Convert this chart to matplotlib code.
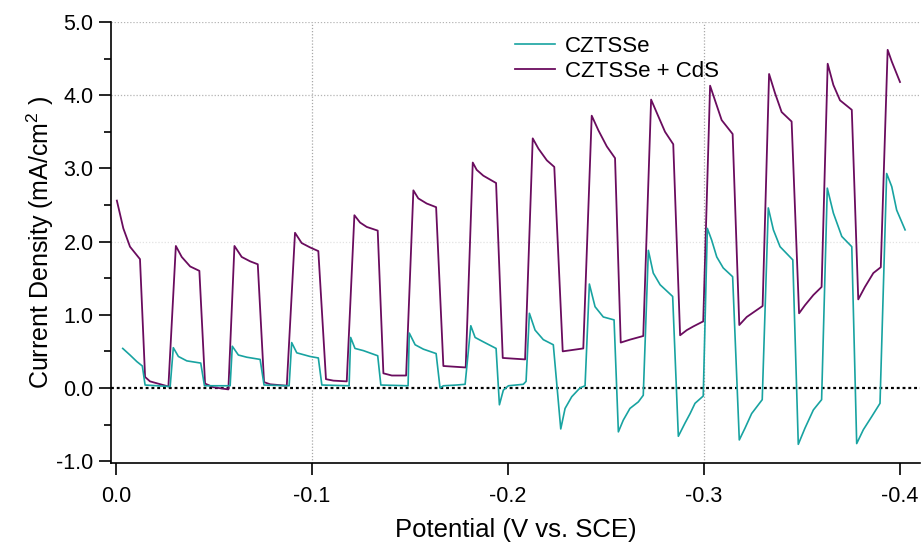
import numpy as np
import matplotlib.pyplot as plt
from matplotlib.ticker import MultipleLocator, FormatStrFormatter

plt.rcParams['font.family'] = ['Liberation Sans', 'DejaVu Sans']
plt.rcParams['mathtext.fontset'] = 'custom'
plt.rcParams['mathtext.rm'] = 'Liberation Sans'
plt.rcParams['axes.unicode_minus'] = False

# chopped-light scans, potential in mV (cathodic) and current density in mA/cm2
cztsse_mv = [3.4, 7.1, 10.6, 13.4, 14.8, 27.6,
             29.2, 31.8, 36.1, 43.2, 45.1, 58.2,
             59.3, 62.4, 66.7, 73.5, 75.5, 88.3,
             89.6, 92.2, 99.0, 103.2, 105.0, 118.9,
             119.7, 121.9, 126.2, 133.5, 135.1, 149.0,
             149.6, 152.6, 156.8, 163.3, 165.3, 167.0, 173.8, 178.1,
             181.0, 183.2, 187.4, 193.9, 195.6, 197.6, 200.2, 207.8, 209.2,
             210.9, 213.8, 218.0, 223.1, 226.9, 229.1, 232.5, 236.7, 239.3,
             241.5, 244.4, 248.6, 254.1, 256.3, 258.8, 262.2, 266.5, 269.0,
             271.6, 274.1, 277.6, 284.0, 286.9, 290.3, 292.9, 295.4, 299.6,
             301.7, 303.9, 306.5, 309.8, 314.6, 318.0, 320.9, 324.3, 329.7,
             332.8, 335.4, 338.8, 345.3, 348.1, 351.5, 355.8, 360.0,
             362.9, 366.0, 370.3, 375.4, 377.9, 381.3, 385.6, 389.8,
             393.2, 395.8, 398.3, 402.6]
cztsse_j = [0.54, 0.45, 0.36, 0.30, 0.04, 0.02,
            0.55, 0.43, 0.37, 0.34, 0.03, 0.03,
            0.57, 0.45, 0.42, 0.39, 0.04, 0.03,
            0.62, 0.48, 0.43, 0.41, 0.04, 0.03,
            0.69, 0.54, 0.51, 0.44, 0.04, 0.03,
            0.75, 0.59, 0.53, 0.47, 0.00, 0.03, 0.04, 0.05,
            0.85, 0.69, 0.63, 0.54, -0.23, -0.03, 0.03, 0.05, 0.09,
            1.02, 0.79, 0.66, 0.59, -0.56, -0.28, -0.12, 0.00, 0.03,
            1.42, 1.11, 0.97, 0.93, -0.60, -0.44, -0.28, -0.19, -0.10,
            1.88, 1.57, 1.41, 1.25, -0.66, -0.48, -0.35, -0.21, -0.11,
            2.18, 2.02, 1.79, 1.64, 1.52, -0.71, -0.55, -0.35, -0.16,
            2.46, 2.16, 1.93, 1.75, -0.77, -0.55, -0.30, -0.16,
            2.73, 2.39, 2.07, 1.93, -0.76, -0.57, -0.39, -0.21,
            2.93, 2.75, 2.43, 2.16]

cds_mv = [0.4, 3.7, 7.1, 12.2, 14.8, 17.3, 26.7,
          30.5, 33.5, 37.8, 42.5, 45.4, 49.6, 57.3,
          60.4, 64.1, 68.4, 72.3, 75.5, 78.6, 87.1,
          91.3, 94.7, 99.0, 103.2, 107.1, 110.9, 117.7,
          121.6, 124.5, 127.9, 133.5, 136.4, 140.7, 148.0,
          151.7, 154.2, 158.5, 163.3, 167.0, 178.4,
          182.0, 184.0, 187.4, 193.9, 197.3, 208.7,
          212.6, 215.5, 219.8, 223.6, 227.9, 238.4,
          242.7, 246.1, 250.4, 254.6, 257.5, 262.2, 269.0,
          273.0, 276.7, 280.1, 284.3, 287.8, 291.2, 294.5, 299.6,
          303.1, 305.6, 309.0, 314.6, 318.0, 321.8, 329.9,
          333.2, 336.2, 339.6, 344.7, 348.5, 351.5, 355.8, 360.0,
          363.1, 366.0, 369.4, 375.4, 378.7, 382.1, 386.4, 390.2,
          393.7, 395.8, 400.0]
cds_j = [2.56, 2.18, 1.93, 1.76, 0.15, 0.09, 0.02,
         1.94, 1.79, 1.66, 1.60, 0.06, 0.01, -0.02,
         1.94, 1.79, 1.73, 1.69, 0.08, 0.05, 0.03,
         2.12, 1.98, 1.92, 1.87, 0.12, 0.10, 0.09,
         2.36, 2.26, 2.20, 2.15, 0.20, 0.17, 0.17,
         2.70, 2.59, 2.52, 2.47, 0.30, 0.28,
         3.08, 2.98, 2.90, 2.80, 0.41, 0.39,
         3.41, 3.27, 3.11, 3.02, 0.50, 0.54,
         3.72, 3.52, 3.30, 3.14, 0.62, 0.66, 0.71,
         3.94, 3.71, 3.50, 3.33, 0.72, 0.79, 0.84, 0.91,
         4.13, 3.93, 3.66, 3.47, 0.86, 0.97, 1.12,
         4.29, 4.03, 3.77, 3.64, 1.02, 1.13, 1.27, 1.38,
         4.43, 4.14, 3.93, 3.80, 1.21, 1.38, 1.57, 1.65,
         4.62, 4.46, 4.18]

teal = '#18a3a1'
purple = '#6a0c5e'

fig = plt.figure(figsize=(9.21, 5.42), dpi=100)
ax = fig.add_axes([0.1205, 0.1458, 0.8784, 0.8136])

# sparse dotted grid
for y, c in [(5.0, '#b4b4b4'), (4.0, '#b4b4b4'), (2.0, '#e2e2e2')]:
    ax.axhline(y, color=c, lw=0.9, ls=(0, (1, 1.5)), zorder=0)
for x in [-0.1, -0.3]:
    ax.axvline(x, color='#a8a8a8', lw=0.9, ls=(0, (1, 1.5)), zorder=0)
ax.axhline(0, color='black', lw=1.6, ls=(0, (1.3, 1.3)), zorder=1)

l2, = ax.plot(-np.array(cds_mv) / 1000, cds_j, color=purple, lw=1.3, label='CZTSSe + CdS', zorder=2)
l1, = ax.plot(-np.array(cztsse_mv) / 1000, cztsse_j, color=teal, lw=1.2, label='CZTSSe', zorder=3)

ax.set_xlim(0.0026, -0.4102)
ax.set_ylim(-1.025, 5.0)
ax.set_xticks([0.0, -0.1, -0.2, -0.3, -0.4])
ax.xaxis.set_major_formatter(FormatStrFormatter('%.1f'))
ax.yaxis.set_major_locator(MultipleLocator(1.0))
ax.yaxis.set_minor_locator(MultipleLocator(0.5))
ax.yaxis.set_major_formatter(FormatStrFormatter('%.1f'))

for s in ['top', 'right']:
    ax.spines[s].set_visible(False)
for s in ['left', 'bottom']:
    ax.spines[s].set_linewidth(1.2)

ax.tick_params(axis='both', which='major', direction='out', length=8.5, width=1.2, labelsize=15.5)
ax.tick_params(axis='y', which='minor', direction='out', length=5, width=1.2)
ax.tick_params(axis='x', pad=8)
ax.tick_params(axis='y', pad=4)

ax.set_xlabel('Potential (V vs. SCE)', fontsize=18.5, labelpad=8)
ax.set_ylabel(r'Current Density (mA/cm$^{2}$ )', fontsize=18, labelpad=0)

ax.legend(handles=[l1, l2], frameon=False, loc='upper left', bbox_to_anchor=(0.499, 0.968),
          fontsize=16, handlelength=1.8, handletextpad=0.45, labelspacing=0.18,
          borderpad=0, borderaxespad=0)

fig.savefig('out.png', dpi=100)
